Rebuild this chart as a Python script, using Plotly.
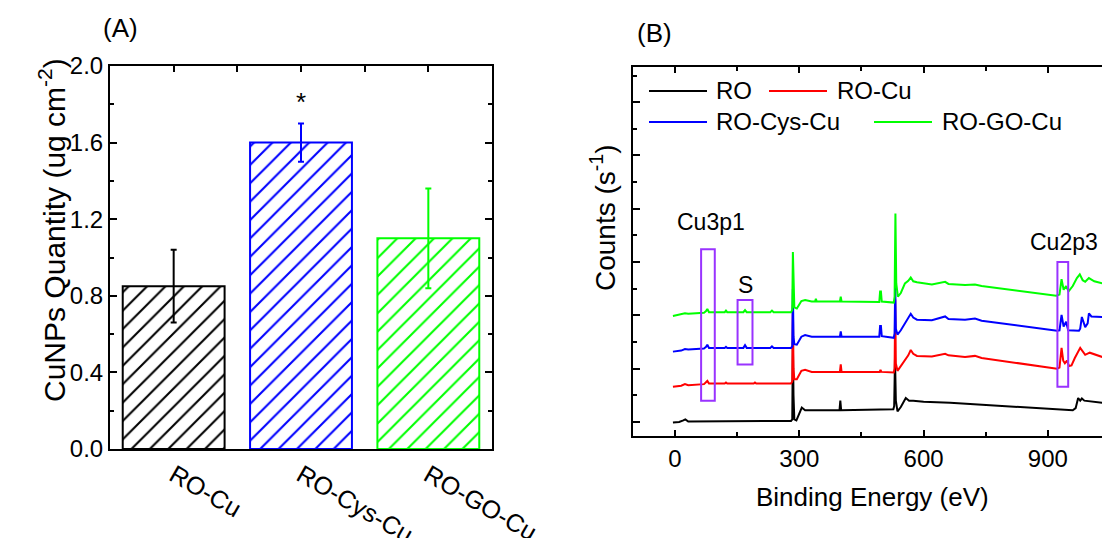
import plotly.graph_objects as go

# ---------------- data: panel (A) ----------------
categories = ["RO-Cu", "RO-Cys-Cu", "RO-GO-Cu"]
cunps_mean = [0.85, 1.60, 1.10]
cunps_err = [0.19, 0.10, 0.26]
bar_colors = ["#000000", "#0000FF", "#00FF00"]
a_yticks = [0.0, 0.4, 0.8, 1.2, 1.6, 2.0]
star_label = "*"
star_y = 1.81

# ---------------- data: panel (B) XPS survey spectra (offset, arbitrary counts) ----------------
ro_E = [-5, 10, 20, 25, 32, 60, 150, 250, 280, 283, 284.5, 286, 288, 293, 300, 306, 314, 397, 399, 401,
        527, 529, 531, 533, 537, 545, 557, 565, 575, 600, 664, 800, 960, 967, 973, 978, 982, 988, 1000, 1031]
ro_c = [-0.01, 0.0, 0.03, 0.05, 0.01, 0.01, 0.01, 0.02, 0.02, 0.05, 1.5, 0.5, 0.05, 0.03, 0.18, 0.27, 0.22, 0.22, 0.40, 0.22,
        0.24, 0.30, 1.2, 0.40, 0.20, 0.28, 0.45, 0.40, 0.40, 0.38, 0.36, 0.30, 0.22, 0.26, 0.45, 0.40, 0.44, 0.40, 0.39, 0.36]

rocu_E = [-5, 15, 24, 32, 70, 75, 78, 82, 120, 123, 126, 190, 193, 196, 280, 283, 284.5, 286, 288, 294, 305, 314, 330,
          398, 400, 402, 494, 496, 498, 528, 530, 531.5, 533, 537, 545, 555, 563, 569, 575, 584, 620, 652, 660, 700,
          724, 740, 922, 928, 933, 937, 941, 946, 951, 957, 965, 978, 990, 1001, 1031]
rocu_c = [0.66, 0.68, 0.71, 0.69, 0.71, 0.74, 0.77, 0.72, 0.72, 0.74, 0.72, 0.72, 0.74, 0.72, 0.72, 0.76, 2.2, 1.0, 0.80, 0.80, 0.96, 0.98, 0.94,
          0.94, 1.08, 0.94, 0.94, 0.98, 0.94, 0.93, 1.0, 2.3, 1.1, 0.96, 1.05, 1.16, 1.25, 1.35, 1.28, 1.24, 1.23, 1.28, 1.25, 1.22,
          1.24, 1.20, 1.00, 1.02, 1.39, 1.15, 1.10, 1.15, 1.05, 1.06, 1.20, 1.39, 1.26, 1.30, 1.22]

rocys_E = [-5, 15, 24, 32, 70, 75, 78, 82, 120, 123, 126, 165, 169, 173, 230, 234, 238, 280, 283, 284.5, 286, 288, 294,
           305, 314, 330, 398, 400, 402, 493, 495, 497, 499, 528, 530, 531.5, 533, 537, 545, 555, 563, 569, 575, 584,
           620, 652, 660, 700, 724, 740, 922, 928, 933, 938, 944, 949, 975, 978, 982, 986, 990, 996, 999, 1005, 1031]
rocys_c = [1.32, 1.34, 1.37, 1.36, 1.38, 1.41, 1.45, 1.39, 1.39, 1.41, 1.39, 1.39, 1.44, 1.39, 1.39, 1.42, 1.39, 1.39, 1.42, 2.5, 1.6, 1.46, 1.45,
           1.60, 1.63, 1.60, 1.60, 1.70, 1.60, 1.60, 1.80, 1.80, 1.61, 1.58, 1.66, 2.6, 1.75, 1.64, 1.72, 1.85, 1.95, 2.03, 1.96, 1.92,
           1.91, 1.98, 1.93, 1.92, 1.94, 1.90, 1.71, 1.72, 2.01, 1.79, 1.88, 1.72, 1.71, 1.75, 1.97, 1.85, 1.78, 1.85, 2.04, 1.98, 1.97]

rogo_E = [-5, 15, 24, 32, 70, 75, 78, 82, 120, 123, 126, 165, 169, 173, 230, 234, 238, 280, 283, 284.5, 286, 288, 294,
          305, 314, 330, 338, 340, 342, 398, 400, 402, 493, 495, 497, 499, 528, 530, 532, 534, 538, 545, 555, 563, 569,
          575, 584, 620, 652, 660, 700, 724, 740, 920, 928, 933, 938, 944, 950, 960, 970, 977, 984, 990, 999, 1012, 1031]
rogo_c = [1.99, 2.02, 2.04, 2.03, 2.05, 2.08, 2.12, 2.06, 2.06, 2.09, 2.06, 2.06, 2.10, 2.06, 2.06, 2.09, 2.06, 2.06, 2.10, 3.19, 2.5, 2.15, 2.13,
          2.27, 2.29, 2.26, 2.26, 2.31, 2.26, 2.26, 2.35, 2.26, 2.25, 2.45, 2.45, 2.26, 2.24, 2.35, 3.91, 2.6, 2.35, 2.42, 2.60, 2.65, 2.71,
          2.64, 2.62, 2.58, 2.63, 2.59, 2.57, 2.58, 2.55, 2.37, 2.39, 2.68, 2.48, 2.55, 2.45, 2.55, 2.70, 2.77, 2.66, 2.63, 2.70, 2.64, 2.60]

spectra_names = ["RO", "RO-Cu", "RO-Cys-Cu", "RO-GO-Cu"]
spectra_colors = ["#000000", "#FF0000", "#0000FF", "#00FF00"]
b_xticks = [0, 300, 600, 900]

# highlighted regions: (label, E0, E1, c0, c1)
region_labels = ["Cu3p1", "S", "Cu2p3"]
region_E = [(63, 96), (151, 187), (923, 949)]
region_c = [(0.40, 3.24), (1.08, 2.29), (0.66, 3.00)]
region_label_pos = [(87, 3.75, "center"), (169, 2.57, "center"), (852, 3.38, "left")]

# ---------------- figure ----------------
W, H = 1102, 538
FONT = "Liberation Sans, Arial, sans-serif"
PURPLE = "#9933FF"


def px(x):
    return x / W


def py(y):
    return 1 - y / H


fig = go.Figure()

# panel A bars
for cat, val, err, col in zip(categories, cunps_mean, cunps_err, bar_colors):
    fig.add_trace(go.Bar(
        x=[cat], y=[val], width=0.8, xaxis="x", yaxis="y", showlegend=False,
        marker=dict(color="white", opacity=1, line=dict(color=col, width=2),
                    pattern=dict(shape="/", fgcolor=col, bgcolor="white", fgopacity=1,
                                 size=13, solidity=0.16)),
        error_y=dict(type="data", array=[err], color=col, thickness=2, width=3),
        hoverinfo="skip"))
# invisible trace for the top tick axis
fig.add_trace(go.Scatter(x=[None], y=[None], xaxis="x3", yaxis="y", showlegend=False, hoverinfo="skip"))

# panel B spectra
for E, c, name, col in zip([ro_E, rocu_E, rocys_E, rogo_E], [ro_c, rocu_c, rocys_c, rogo_c],
                           spectra_names, spectra_colors):
    fig.add_trace(go.Scatter(x=E, y=c, mode="lines", name=name, line=dict(color=col, width=2),
                             xaxis="x2", yaxis="y2", showlegend=False, hoverinfo="skip"))

axis_common = dict(showline=True, linecolor="black", linewidth=2, showgrid=False, zeroline=False,
                   automargin=False, tickcolor="black", tickwidth=2,
                   tickfont=dict(family=FONT, size=24, color="black"))

fig.update_layout(
    width=W, height=H, margin=dict(l=0, r=0, t=0, b=0, autoexpand=False),
    paper_bgcolor="white", plot_bgcolor="white", barmode="overlay",
    font=dict(family=FONT, color="black"),
    xaxis=dict(domain=[px(110), px(492)], anchor="y", type="category", range=[-0.5, 2.5],
               ticks="", mirror=True, tickangle=30, **axis_common),
    xaxis3=dict(overlaying="x", side="top", anchor="y", range=[-0.5, 2.5], tickvals=[0, 0.5, 1, 1.5, 2],
                ticks="inside", ticklen=6, tickwidth=2, tickcolor="black", showticklabels=False,
                showgrid=False, zeroline=False, showline=False, automargin=False),
    yaxis=dict(domain=[py(449), py(66)], anchor="x", range=[0, 2.0], tickvals=a_yticks, tickformat=".1f",
               ticks="inside", ticklen=7, mirror="ticks",
               minor=dict(dtick=0.2, tick0=0, ticks="inside", ticklen=4, tickwidth=2, tickcolor="black"),
               **axis_common),
    xaxis2=dict(domain=[px(633), 1.0], anchor="y2", range=[-101.4, 1030.6], tickvals=b_xticks,
                ticks="inside", ticklen=6, mirror="ticks",
                minor=dict(dtick=150, tick0=0, ticks="inside", ticklen=4, tickwidth=2, tickcolor="black"),
                **axis_common),
    yaxis2=dict(domain=[py(436), py(67)], anchor="x2", range=[-0.263, 6.66], dtick=1, tick0=0,
                ticks="inside", ticklen=7, showticklabels=False, mirror=False,
                minor=dict(dtick=0.5, tick0=0, ticks="inside", ticklen=4, tickwidth=2, tickcolor="black"),
                **axis_common),
)
fig.update_xaxes(tickfont=dict(size=25), selector=dict(anchor="y"))

annotations = []
shapes = []


def paper_text(text, x, y, size, angle=0, xanchor="center"):
    return dict(text=text, x=px(x), y=py(y), xref="paper", yref="paper", xanchor=xanchor, yanchor="middle",
                textangle=angle, showarrow=False, font=dict(size=size, family=FONT, color="black"))


# titles
annotations.append(paper_text("CuNPs Quantity (ug cm<sup>-2</sup>)", 52, 230, 30, -90))
annotations.append(paper_text("Counts (s<sup>-1</sup>)", 603, 218, 28, -90))
annotations.append(paper_text("Binding Energy (eV)", 872, 497, 26))
annotations.append(paper_text("(A)", 120, 28, 26))
annotations.append(paper_text("(B)", 654, 33, 26))
# significance star
annotations.append(dict(text=star_label, x=categories[1], y=star_y, xref="x", yref="y", xanchor="center",
                        yanchor="middle", showarrow=False, font=dict(size=26, family=FONT, color="black")))

# region boxes + labels
for lab, (e0, e1), (c0, c1), (lx, ly, la) in zip(region_labels, region_E, region_c, region_label_pos):
    shapes.append(dict(type="rect", xref="x2", yref="y2", x0=e0, x1=e1, y0=c0, y1=c1,
                       line=dict(color=PURPLE, width=2)))
    annotations.append(dict(text=lab, x=lx, y=ly, xref="x2", yref="y2", xanchor=la, yanchor="middle",
                            showarrow=False, font=dict(size=23, family=FONT, color="black")))

# manual legend (two rows)
legend_rows = [(91, 649, 714), (91, 769, 835), (122, 649, 714), (122, 874, 940)]
for (ly, lx0, tx), name, col in zip(legend_rows, spectra_names, spectra_colors):
    shapes.append(dict(type="line", xref="paper", yref="paper", x0=px(lx0), x1=px(lx0 + 58),
                       y0=py(ly), y1=py(ly), line=dict(color=col, width=2)))
    annotations.append(paper_text(name, tx, ly, 24, xanchor="left"))

fig.update_layout(annotations=annotations, shapes=shapes)

fig.write_html("out.html")
